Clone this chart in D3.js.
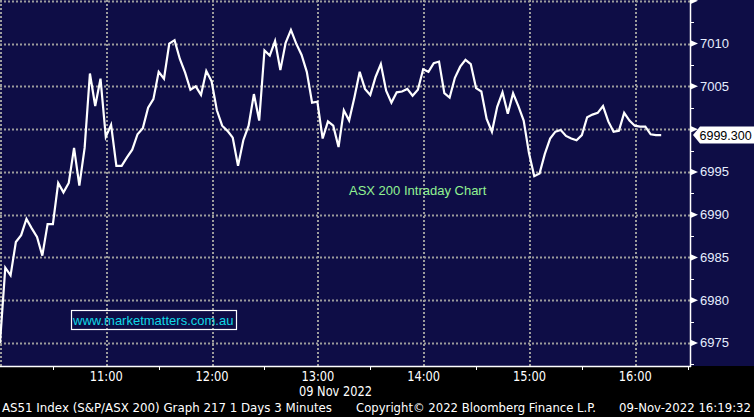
<!DOCTYPE html>
<html>
<head>
<meta charset="utf-8">
<script src="https://cdn.jsdelivr.net/npm/d3@7"></script>
<style>
  html, body { margin: 0; padding: 0; background: #000; }
  svg { display: block; }
  .narrow { font-family: "Liberation Sans Narrow", "DejaVu Sans Condensed", "Arial Narrow", sans-serif; }
</style>
</head>
<body>
<div id="graph"></div>
<script>
const width = 754, height = 417;
const plotRight = 690, plotBottom = 366;

// ASX 200 (AS51) 3 minute closes from 10:00 on 09 Nov 2022
const closes = [
  6975.0, 6983.8, 6982.9, 6986.8, 6987.6, 6989.5, 6988.4, 6987.4, 6985.2, 6988.9,
  6988.9, 6993.7, 6992.6, 6993.7, 6997.8, 6993.4, 6997.8, 7006.5, 7002.7, 7005.9,
  6999.1, 7000.5, 6995.7, 6995.7, 6996.7, 6997.6, 6999.4, 7000.1, 7002.5, 7003.5,
  7006.7, 7005.9, 7010.0, 7010.4, 7008.2, 7006.6, 7004.6, 7005.0, 7004.0, 7006.8,
  7005.6, 7002.2, 7000.4, 6999.8, 6999.0, 6995.7, 6998.7, 7000.4, 7004.1, 7001.0,
  7009.2, 7008.6, 7010.3, 7006.9, 7010.1, 7011.6, 7010.0, 7008.7, 7006.7, 7003.1,
  7003.2, 6998.9, 7000.9, 7000.4, 6997.9, 7002.2, 7001.0, 7003.7, 7006.7, 7004.7,
  7004.0, 7006.1, 7007.6, 7004.5, 7003.1, 7004.3, 7004.4, 7004.7, 7003.9, 7004.6,
  7007.0, 7006.7, 7007.7, 7007.9, 7004.2, 7003.7, 7006.0, 7007.3, 7008.1, 7007.6,
  7004.8, 7004.4, 7001.2, 6999.7, 7002.6, 7004.3, 7001.8, 7004.2, 7002.7, 7001.0,
  6997.2, 6994.5, 6994.8, 6997.1, 6998.9, 6999.7, 6999.9, 6999.2, 6998.9, 6998.7,
  6999.3, 7001.4, 7001.7, 7001.9, 7002.7, 7000.9, 6999.7, 6999.8, 7001.9, 7001.0,
  7000.4, 7000.3, 7000.3, 6999.4, 6999.3, 6999.3
];
const lastPrice = 6999.300;
const yTicks = [6975, 6980, 6985, 6990, 6995, 7000, 7005, 7010, 7015];
// 7000 sits under the last-price tag, 7015 is off the top
const yLabels = [6975, 6980, 6985, 6990, 6995, 7005, 7010];
const yMinorTicks = [6972.5, 6977.5, 6982.5, 6987.5, 6992.5, 6997.5, 7002.5, 7007.5, 7012.5];
const hourTicks = ["10:00", "11:00", "12:00", "13:00", "14:00", "15:00", "16:00"];
const halfHourTicks = ["10:30", "11:30", "12:30", "13:30", "14:30", "15:30", "16:30"];
const dateLabel = "09 Nov 2022";
const chartNote = "ASX 200 Intraday Chart";
const watermark = "www.marketmatters.com.au";
const footerLeft = "AS51 Index (S&P/ASX 200) Graph 217 1 Days 3 Minutes";
const footerMid = "Copyright\u00a9 2022 Bloomberg Finance L.P.";
const footerRight = "09-Nov-2022 16:19:32";

const parseTime = d3.timeParse("%Y-%m-%d %H:%M");
const day = "2022-11-09";
const start = parseTime(day + " 10:00");
const data = closes.map(function(v, i) {
    return { t: d3.timeMinute.offset(start, i * 3), v: v };
});

let svg = d3.select("#graph")
    .append("svg")
    .attr("width", width)
    .attr("height", height);

svg.append("rect")
    .attr("width", width).attr("height", height).attr("fill", "#000");
svg.append("rect")
    .attr("width", width).attr("height", plotBottom).attr("fill", "#0e0d46");

let x = d3.scaleTime()
    .domain([start, d3.timeSecond.offset(start, 391 * 60 + 20)])
    .range([0, plotRight]);

let y = d3.scaleLinear()
    .domain([6972.3, 7015.1])
    .range([plotBottom, 0]);

// dotted grid
let grid = svg.append("g")
    .attr("stroke", "#9c9c9c")
    .attr("stroke-width", 2)
    .attr("stroke-dasharray", "2,2");

grid.selectAll(".hg").data(yTicks).enter()
    .append("line")
    .attr("x1", 0).attr("x2", plotRight)
    .attr("y1", function(d) { return Math.round(y(d)) + 0.5; })
    .attr("y2", function(d) { return Math.round(y(d)) + 0.5; });

grid.selectAll(".vg").data(hourTicks).enter()
    .append("line")
    .attr("x1", function(d) { return Math.round(x(parseTime(day + " " + d))) + 1; })
    .attr("x2", function(d) { return Math.round(x(parseTime(day + " " + d))) + 1; })
    .attr("y1", 0).attr("y2", plotBottom);

// price line
let line = d3.line()
    .x(function(d) { return x(d.t); })
    .y(function(d) { return y(d.v); });

svg.append("path")
    .datum(data)
    .attr("fill", "none")
    .attr("stroke", "#ffffff")
    .attr("stroke-width", 2.2)
    .attr("stroke-linejoin", "miter")
    .attr("d", line);

// right axis
let ax = svg.append("g");
ax.append("line")
    .attr("x1", plotRight + 0.5).attr("x2", plotRight + 0.5)
    .attr("y1", 0).attr("y2", plotBottom + 1)
    .attr("stroke", "#fff").attr("stroke-width", 1.5);

ax.selectAll(".tri").data(yTicks).enter()
    .append("path")
    .attr("fill", "#fff")
    .attr("d", function(d) {
        let yy = y(d);
        return `M${plotRight},${yy - 3.5}L${plotRight + 8},${yy}L${plotRight},${yy + 3.5}Z`;
    });

ax.selectAll(".minor").data(yMinorTicks).enter()
    .append("line")
    .attr("x1", plotRight).attr("x2", plotRight + 4)
    .attr("y1", function(d) { return Math.round(y(d)) + 0.5; })
    .attr("y2", function(d) { return Math.round(y(d)) + 0.5; })
    .attr("stroke", "#fff").attr("stroke-width", 1);

ax.selectAll(".lab").data(yLabels).enter()
    .append("text")
    .attr("x", plotRight + 10)
    .attr("y", function(d) { return y(d) + 4.5; })
    .attr("fill", "#e6eeff")
    .style("font-family", "Liberation Sans, Arial, sans-serif")
    .style("font-size", "13px")
    .text(function(d) { return d; });

// last price tag
let ly = y(lastPrice);
svg.append("path")
    .attr("fill", "#fff")
    .attr("d", `M${plotRight + 3},${ly}L${plotRight + 10},${ly - 8.5}L${width},${ly - 8.5}L${width},${ly + 8.5}L${plotRight + 10},${ly + 8.5}Z`);
svg.append("text")
    .attr("x", plotRight + 9.5)
    .attr("y", ly + 4.5)
    .attr("fill", "#000")
    .style("font-family", "Liberation Sans, Arial, sans-serif")
    .style("font-size", "12.5px")
    .text(d3.format(".3f")(lastPrice));

// bottom axis
svg.append("line")
    .attr("x1", 0).attr("x2", plotRight + 1)
    .attr("y1", plotBottom + 0.5).attr("y2", plotBottom + 0.5)
    .attr("stroke", "#fff").attr("stroke-width", 1.5);

svg.selectAll(".xt").data(halfHourTicks).enter()
    .append("line")
    .attr("x1", function(d) { return Math.round(x(parseTime(day + " " + d))) + 0.5; })
    .attr("x2", function(d) { return Math.round(x(parseTime(day + " " + d))) + 0.5; })
    .attr("y1", plotBottom).attr("y2", plotBottom + 4)
    .attr("stroke", "#fff").attr("stroke-width", 1);

svg.selectAll(".xl").data(hourTicks.slice(1)).enter()
    .append("text")
    .attr("class", "narrow")
    .attr("x", function(d) { return x(parseTime(day + " " + d)) - 16; })
    .attr("y", 381)
    .attr("fill", "#fff")
    .attr("textLength", 33)
    .attr("lengthAdjust", "spacingAndGlyphs")
    .style("font-size", "14px")
    .text(function(d) { return d; });

svg.append("text")
    .attr("class", "narrow")
    .attr("x", 299).attr("y", 396)
    .attr("fill", "#fff")
    .attr("textLength", 73)
    .attr("lengthAdjust", "spacingAndGlyphs")
    .style("font-size", "14px")
    .text(dateLabel);

// annotations
svg.append("text")
    .attr("x", 349).attr("y", 195)
    .attr("fill", "#92f292")
    .style("font-family", "Liberation Sans, Arial, sans-serif")
    .style("font-size", "13px")
    .text(chartNote);

svg.append("rect")
    .attr("x", 71.5).attr("y", 310.5).attr("width", 165).attr("height", 19)
    .attr("fill", "none").attr("stroke", "#fff").attr("stroke-width", 1.2);
svg.append("text")
    .attr("x", 73).attr("y", 325)
    .attr("fill", "#10d8e6")
    .style("font-family", "Liberation Sans, Arial, sans-serif")
    .style("font-size", "13px")
    .text(watermark);

// footer
let footer = svg.append("g")
    .attr("class", "narrow")
    .attr("fill", "#fff")
    .style("font-size", "13px");
footer.append("text").attr("x", 2).attr("y", 411.5)
    .attr("textLength", 330).attr("lengthAdjust", "spacingAndGlyphs").text(footerLeft);
footer.append("text").attr("x", 356).attr("y", 411.5)
    .attr("textLength", 240).attr("lengthAdjust", "spacingAndGlyphs").text(footerMid);
footer.append("text").attr("x", 619).attr("y", 411.5)
    .attr("textLength", 132).attr("lengthAdjust", "spacingAndGlyphs").text(footerRight);
</script>
</body>
</html>
